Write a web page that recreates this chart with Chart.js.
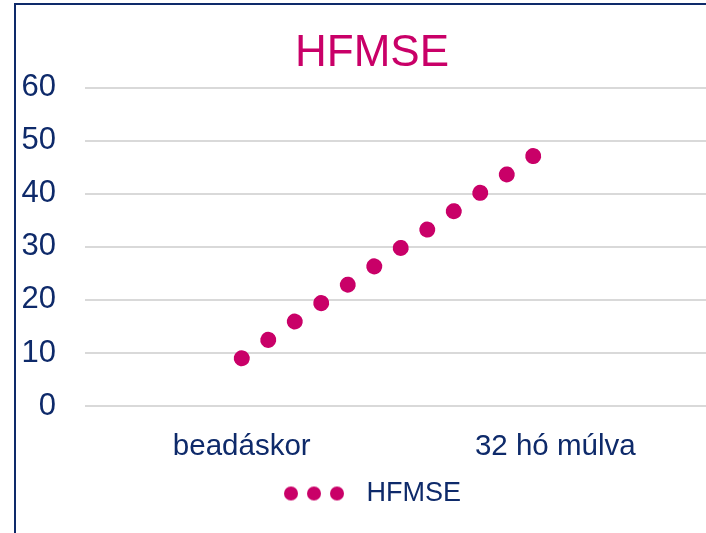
<!DOCTYPE html>
<html>
<head>
<meta charset="utf-8">
<script src="https://cdn.jsdelivr.net/npm/chart.js@4.4.0/dist/chart.umd.min.js"></script>
<style>
html, body { margin: 0; padding: 0; background: #fff; overflow: hidden; width: 706px; height: 533px; }
#frame { position: absolute; left: 14px; top: 3px; width: 800px; height: 600px; border-left: 2px solid #0E2A6A; border-top: 2px solid #0E2A6A; }
#c { position: absolute; left: 0; top: 0; }
</style>
</head>
<body>
<div id="frame"></div>
<canvas id="c" width="712" height="533"></canvas>
<script>
"use strict";

// data
var categories = ['beadáskor', '32 hó múlva'];
var hfmseValues = [9, 50];
var seriesName = 'HFMSE';
var yMin = 0, yMax = 60, yStep = 10;

var navy = '#0E2A6A';
var magenta = '#C90068';
var fontFamily = '"Liberation Sans", Arial, sans-serif';

// three dots for the legend swatch (dotted line look)
function legendDots() {
	var c = document.createElement('canvas');
	c.width = 70;
	c.height = 16;
	var ctx = c.getContext('2d');
	ctx.fillStyle = magenta;
	[8, 31, 54].forEach(function (x) {
		ctx.beginPath();
		ctx.arc(x, 8, 7, 0, Math.PI * 2);
		ctx.fill();
	});
	return c;
}

// let the y labels stick out left of the padding without being clipped
var widenY = {
	id: 'widenY',
	afterLayout: function (chart) {
		chart.scales.y.left = 14;
	}
};

var chart = new Chart(document.getElementById('c').getContext('2d'), {
	type: 'line',
	data: {
		labels: categories,
		datasets: [{
			label: seriesName,
			data: hfmseValues,
			borderColor: magenta,
			backgroundColor: magenta,
			borderWidth: 16,
			borderDash: [0.01, 32.24],
			borderCapStyle: 'round',
			pointRadius: 0,
			fill: false,
			tension: 0
		}]
	},
	options: {
		responsive: false,
		animation: false,
		layout: {
			padding: { left: 32, right: 0, top: 0, bottom: 16 }
		},
		plugins: {
			title: {
				display: true,
				text: seriesName,
				color: magenta,
				font: { family: fontFamily, size: 44, weight: 'normal' },
				padding: { top: 27, bottom: 8 }
			},
			legend: {
				display: true,
				position: 'bottom',
				labels: {
					usePointStyle: true,
					pointStyle: legendDots(),
					pointStyleWidth: 70,
					color: navy,
					font: { family: fontFamily, size: 27 },
					padding: 10
				}
			},
			tooltip: { enabled: false }
		},
		scales: {
			x: {
				offset: true,
				afterFit: function (scale) { scale.height = 64; },
				grid: { display: false, drawTicks: false },
				border: { display: false },
				ticks: {
					color: navy,
					font: { family: fontFamily, size: 29.5 },
					padding: 23,
					maxRotation: 0
				}
			},
			y: {
				min: yMin,
				max: yMax,
				afterFit: function (scale) { scale.width = 53; },
				grid: { color: '#D9D9D9', lineWidth: 2, drawTicks: false },
				border: { display: false },
				ticks: {
					stepSize: yStep,
					color: navy,
					font: { family: fontFamily, size: 31 },
					padding: 29
				}
			}
		}
	},
	plugins: [widenY]
});
</script>
</body>
</html>
